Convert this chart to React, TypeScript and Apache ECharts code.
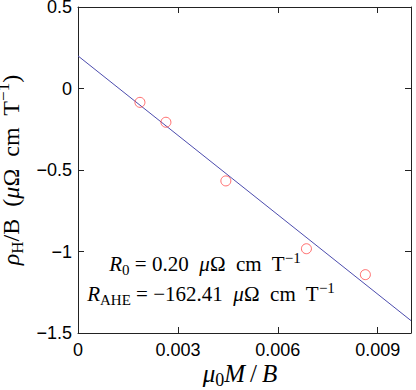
import React, { useEffect, useRef } from 'react';
import * as echarts from 'echarts';

// measured data points (mu0 M / B, rho_H / B)
const xValues = [0.00186, 0.00264, 0.00444, 0.00686, 0.00863];
const yValues = [-0.085, -0.207, -0.567, -0.983, -1.142];
// fit parameters shown in the annotation
const R0 = 0.2;
const RAHE = -162.41;
const fitX = [0, 0.01];
// tick labels
const xTicks = [0, 0.003, 0.006, 0.009];
const yTicks = [0.5, 0, -0.5, -1, -1.5];

const serif = '"Liberation Serif", "DejaVu Serif", serif';
const sans = '"Liberation Sans", Arial, sans-serif';

function richStyles(size: number) {
  const small = Math.round(size * 0.7);
  return {
    n: { fontFamily: serif, fontSize: size, color: '#000' },
    i: { fontFamily: serif, fontSize: size, fontStyle: 'italic', color: '#000' },
    sub: { fontFamily: serif, fontSize: small, color: '#000', padding: [Math.round(size * 0.55), 0, 0, 0] },
    sup: { fontFamily: serif, fontSize: small, color: '#000', padding: [0, 0, Math.round(size * 0.6), 0] },
  };
}

export default function App() {
  const ref = useRef<HTMLDivElement>(null);
  useEffect(() => {
    const chart = echarts.init(ref.current!, null, { renderer: 'svg' });
    const fitData = fitX.map((x) => [x, R0 + RAHE * x]);
    const axisColor = '#222';
    const xFmt = (v: number) => {
      const t = xTicks.find((k) => Math.abs(k - v) < 1e-9);
      if (t === undefined) return '';
      return t === 0 ? '0' : t.toFixed(3);
    };
    const yFmt = (v: number) => {
      const t = yTicks.find((k) => Math.abs(k - v) < 1e-9);
      if (t === undefined) return '';
      return String(t).replace('-', '\u2212');
    };
    const baseAxis = {
      type: 'value' as const,
      axisLine: { show: true, onZero: false, lineStyle: { color: axisColor, width: 1 } },
      axisTick: { show: true, inside: true, length: 6, lineStyle: { color: axisColor } },
      splitLine: { show: false },
    };
    chart.setOption({
      animation: false,
      backgroundColor: '#fff',
      grid: { left: 78, right: 5, top: 7, bottom: 57, containLabel: false, outerBoundsMode: 'none' },
      xAxis: [
        {
          ...baseAxis,
          position: 'bottom',
          min: 0,
          max: 0.01,
          interval: 0.003,
          axisLabel: {
            formatter: xFmt,
            showMaxLabel: false,
            fontFamily: sans,
            fontSize: 18,
            color: '#000',
            margin: 8,
          },
        },
        {
          ...baseAxis,
          position: 'top',
          min: 0,
          max: 0.01,
          interval: 0.003,
          axisLabel: { show: false },
        },
      ],
      yAxis: [
        {
          ...baseAxis,
          position: 'left',
          min: -1.5,
          max: 0.5,
          interval: 0.5,
          name: '{i|\u03c1}{sub|H}{n|/B  (}{i|\u03bc}{n|\u03a9  cm  T}{sup|\u22121}{n|)}',
          nameLocation: 'middle',
          nameRotate: 90,
          nameGap: 29,
          nameTextStyle: { color: '#000', rich: richStyles(24) },
          axisLabel: { formatter: yFmt, fontFamily: sans, fontSize: 18, color: '#000', margin: 6 },
        },
        {
          ...baseAxis,
          position: 'right',
          min: -1.5,
          max: 0.5,
          interval: 0.5,
          axisLabel: { show: false },
        },
      ],
      series: [
        {
          type: 'line',
          data: fitData,
          showSymbol: false,
          symbol: 'none',
          lineStyle: { color: '#4c4cae', width: 1 },
          z: 2,
        },
        {
          type: 'scatter',
          data: xValues.map((x, i) => [x, yValues[i]]),
          symbol: 'circle',
          symbolSize: 10,
          itemStyle: { color: 'rgba(0,0,0,0)', borderColor: '#ff4a4a', borderWidth: 1 },
          z: 3,
        },
      ],
      graphic: [
        {
          type: 'text',
          x: 205,
          y: 264,
          style: {
            text: `{i|R}{sub|0}{n| = ${R0.toFixed(2)}  }{i|\u03bc}{n|\u03a9  cm  T}{sup|\u22121}`,
            rich: richStyles(21),
            align: 'center',
            verticalAlign: 'middle',
          },
        },
        {
          type: 'text',
          x: 211,
          y: 294,
          style: {
            text: `{i|R}{sub|AHE}{n| = \u2212${Math.abs(RAHE).toFixed(2)}  }{i|\u03bc}{n|\u03a9  cm  T}{sup|\u22121}`,
            rich: richStyles(21),
            align: 'center',
            verticalAlign: 'middle',
          },
        },
        {
          type: 'text',
          x: 240,
          y: 373,
          style: {
            text: '{i|\u03bc}{sub|0}{i|M}{n|\u2009/\u2009}{i|B}',
            rich: richStyles(25),
            align: 'center',
            verticalAlign: 'middle',
          },
        },
      ],
    });
    return () => chart.dispose();
  }, []);
  return <div ref={ref} style={{ position: 'fixed', left: 0, top: 0, width: 416, height: 390, background: '#fff' }} />;
}
